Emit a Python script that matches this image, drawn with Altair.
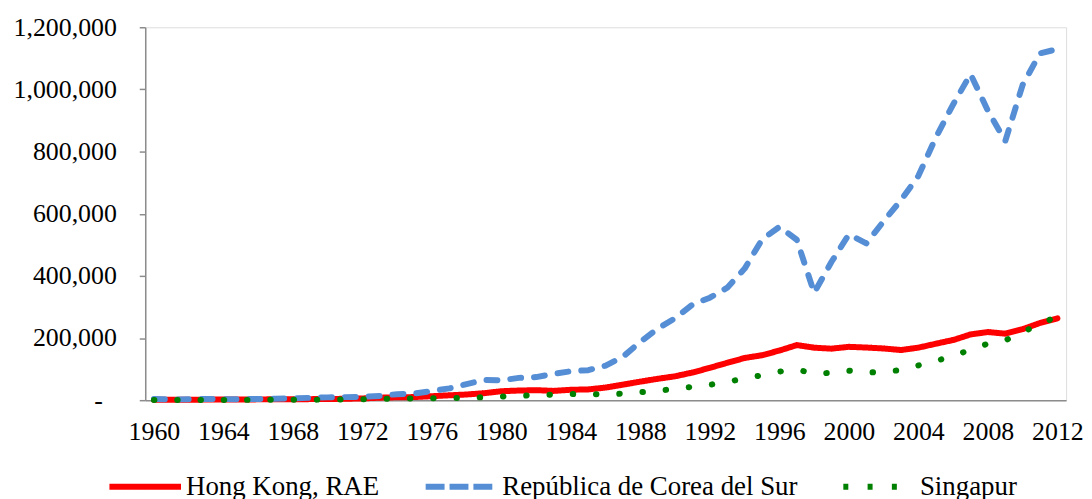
import altair as alt
import pandas as pd

# ---- data (US$ millones) ----
years = list(range(1960, 2013))

hong_kong = [1321, 1408, 1608, 1828, 2133, 2435, 2578, 2764, 2923, 3431,
             3800, 4487, 5668, 8036, 9326, 10048, 12874, 15726, 18317, 22480,
             28862, 31055, 32291, 29870, 33512, 34736, 40567, 50002, 59686, 68791,
             76928, 88960, 104273, 120354, 135812, 144652, 159718, 177353, 168886, 165768,
             171668, 169403, 166349, 161385, 169100, 181570, 193536, 211597, 219280, 214046,
             228638, 248514, 263259]

corea = [3958, 2418, 2815, 3989, 3459, 3120, 3928, 4858, 6117, 7676,
         8999, 9896, 10691, 13842, 19406, 21406, 29632, 38041, 51789, 65412,
         63835, 71814, 74397, 84745, 93204, 96620, 111268, 140023, 187816, 230310,
         263776, 308183, 329885, 362136, 423434, 517118, 557643, 516283, 345415, 445406,
         533384, 504584, 575930, 643762, 721976, 844866, 951773, 1049236, 931405, 834060,
         1014890, 1116247, 1129598]

singapur = [704, 764, 826, 918, 894, 974, 1096, 1238, 1425, 1659,
            1920, 2265, 2878, 4238, 5269, 5759, 6031, 6496, 7845, 9495,
            11897, 14182, 16080, 17965, 19740, 18974, 18738, 21165, 25876, 30614,
            36146, 43097, 49693, 58196, 70750, 80000, 92000, 99000, 85000, 88000,
            95000, 89000, 91000, 97000, 112000, 126000, 143000, 162000, 182000, 192000,
            222000, 240000, 274000]

series_names = ["Hong Kong, RAE", "República de Corea del Sur", "Singapur"]
series_colors = ["#FF0000", "#558ED5", "#008000"]
series_dashes = [[1, 0], [11, 13], [0.5, 22.9]]      # plot lines (round caps)
legend_dashes = [[1, 0], [19, 5], [5, 19.4]]         # legend samples (butt caps)

x_tick_years = [1960, 1964, 1968, 1972, 1976, 1980, 1984, 1988, 1992, 1996, 2000, 2004, 2008, 2012]
y_ticks = [0, 200000, 400000, 600000, 800000, 1000000, 1200000]

rows = []
for name, vals in zip(series_names, [hong_kong, corea, singapur]):
    for yr, v in zip(years, vals):
        rows.append({"Año": yr, "Valor": v, "Serie": name})
df = pd.DataFrame(rows)

FONT = "Liberation Serif"
GRAY = "#8C8C8C"

x_enc = alt.X("Año:Q",
              scale=alt.Scale(domain=[years[0] - 0.5, years[-1] + 0.5], nice=False, zero=False),
              axis=alt.Axis(values=x_tick_years, format="d", ticks=False, labelPadding=19,
                            labelFontSize=26, labelFont=FONT, labelColor="black",
                            domainColor=GRAY, domainWidth=1.5, grid=False, title=None,
                            labelAngle=0, labelFlush=False, labelOverlap=False))
y_enc = alt.Y("Valor:Q",
              scale=alt.Scale(domain=[0, 1200000], nice=False),
              axis=alt.Axis(values=y_ticks,
                            labelExpr="datum.value == 0 ? '-' : format(datum.value, ',')",
                            tickSize=6, tickColor=GRAY, tickWidth=1.5,
                            domainColor=GRAY, domainWidth=1.5,
                            labelFontSize=26, labelFont=FONT, labelColor="black",
                            labelPadding={"condition": {"test": "datum.value == 0", "value": 37}, "value": 23},
                            grid=False, title=None))

legend = alt.Legend(
    title=None, orient="none", legendX=-39, legendY=423,
    direction="horizontal", columns=3,
    symbolType="stroke", symbolSize=5184, symbolStrokeWidth=6,
    labelFontSize=27, labelFont=FONT, labelColor="black",
    labelOffset=2, columnPadding=34, padding=0, labelLimit=500,
)

base = alt.Chart(df)

lines = base.mark_line(strokeWidth=6, strokeCap="round", strokeJoin="round").encode(
    x=x_enc, y=y_enc,
    color=alt.Color("Serie:N", scale=alt.Scale(domain=series_names, range=series_colors), legend=None),
    strokeDash=alt.StrokeDash("Serie:N", scale=alt.Scale(domain=series_names, range=series_dashes), legend=None),
    order=alt.Order("Año:Q"),
)

legend_layer = base.transform_filter("false").mark_line(strokeWidth=6, strokeCap="butt").encode(
    x=x_enc, y=y_enc,
    color=alt.Color("Serie:N", scale=alt.Scale(domain=series_names, range=series_colors), legend=legend),
    strokeDash=alt.StrokeDash("Serie:N", scale=alt.Scale(domain=series_names, range=legend_dashes), legend=legend),
)

chart = alt.layer(lines, legend_layer).resolve_scale(
    color="independent", strokeDash="independent"
).properties(
    width=926, height=375,
    autosize=alt.AutoSizeParams(type="none"),
    padding={"left": 138, "top": 18, "right": 18, "bottom": 100},
).configure_view(stroke=None).configure(font=FONT)

chart.save("out.html", embed_options={"renderer": "svg", "actions": False})
